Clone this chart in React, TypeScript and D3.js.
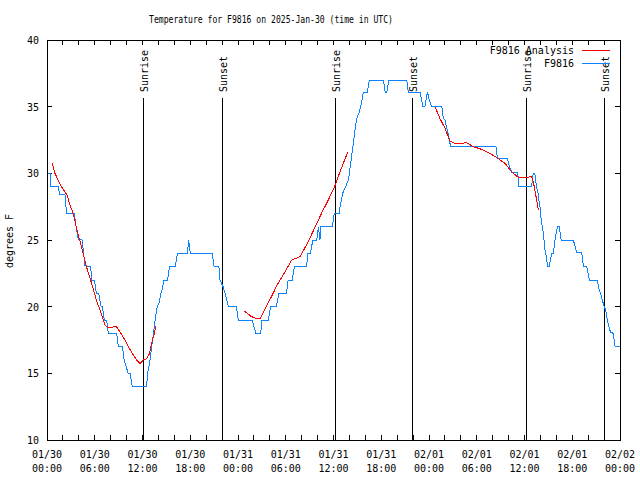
import React from "react";
import * as d3 from "d3";

const TITLE = "Temperature for F9816 on 2025-Jan-30 (time in UTC)";
const Y_LABEL = "degrees F";
const START = "2025-01-30T00:00:00Z";
const END = "2025-02-02T00:00:00Z";

// observations: hours after 01/30 00:00 UTC and temperature (F)
const obsHours = [
  0, 0.38, 0.45, 1.42, 1.6, 2.26, 2.35, 2.43, 3.43, 3.7, 3.94, 4.4, 4.6, 4.75, 4.98, 5.5, 5.6, 5.95, 6.2, 6.49,
  6.8, 6.95, 7.1, 7.2, 7.5, 7.7, 8.75, 8.96, 9.47, 9.7, 9.9, 10.2, 10.43, 10.72, 12.5, 12.7, 12.9, 13.1, 13.43,
  13.64, 13.85, 14.1, 14.3, 14.55, 14.65, 15.15, 15.4, 16.1, 16.4, 17.65, 17.8, 18.0, 20.77, 21.0, 21.6, 21.74,
  22.16, 22.37, 22.79, 23.8, 24.04, 25.8, 26.0, 26.26, 26.85, 27.0, 27.8, 28.1, 28.8, 29.15, 30.1, 30.3, 30.8,
  31.1, 32.6, 32.8, 33.1, 33.4, 33.9, 34.1, 34.3, 34.4, 35.85, 36.1, 36.7, 36.8, 37.0, 37.15, 37.45, 37.9, 38.1,
  38.3, 38.5, 38.7, 38.9, 39.25, 39.55, 39.75, 40.25, 40.5, 42.26, 42.5, 42.7, 42.95, 45.2, 45.4, 46.9, 47.2,
  47.5, 47.8, 48.0, 48.3, 49.6, 49.8, 50.0, 50.2, 50.4, 50.7, 56.4, 56.6, 57.85, 58.1, 58.4, 59.14, 59.3, 60.9,
  61.1, 61.3, 61.5, 61.7, 61.8, 62.0, 62.1, 62.37, 62.58, 62.79, 62.87, 63.12, 63.29, 63.4, 63.62, 63.83, 64.05,
  64.17, 64.38, 64.6, 66.13, 66.35, 66.56, 67.19, 67.4, 67.8, 68.0, 68.15, 69.15, 69.36, 69.57, 69.78, 69.99,
  70.2, 70.4, 70.6, 70.8, 71.15, 71.37, 72.0,
];
const obsTemps = [
  30, 30, 29, 29, 28.4, 28.4, 28, 27, 27, 25.8, 25.05, 25, 24, 23.1, 23, 23, 22, 22, 21, 21,
  20, 20, 19.5, 19, 19, 18, 18, 17, 17, 16, 15.6, 15, 15, 14, 14, 15.25, 15.75, 16.75, 18.25,
  19.25, 20, 20.3, 21, 21.45, 22, 22, 23, 23, 24, 24, 25, 24, 24, 23, 23, 22,
  21.45, 21, 20, 20, 19, 19, 18.5, 18, 18, 19, 19, 20, 20, 21, 21, 22, 22,
  23, 23, 24, 24, 25, 25, 26, 25, 26, 26, 27, 27, 27.4, 28, 28.5, 28.9, 29.55, 30.5,
  31.4, 32.25, 33.25, 34.1, 34.6, 35.4, 36.1, 36.1, 37, 37, 36.1, 36.1, 37, 37, 36.1, 36.1, 35.05,
  35.05, 36.1, 35.6, 35.05, 35.05, 34.1, 34, 33.5, 33, 32.05, 32.05, 31.1, 31.1, 30.55, 30.05, 30.05, 29.05, 29.05,
  30, 30, 29, 28.5, 28, 27.25, 26.5, 25.5, 24.25, 23.6, 23.05, 23.05, 23.6, 24, 24, 25, 25.75,
  26, 26, 25, 25, 24.55, 24.05, 24.05, 23.05, 23.05, 22.45, 22, 22, 21.3, 21, 20.5, 20.05,
  19.75, 19, 18.5, 18.1, 18, 17.05, 17.05,
];

// analysis: NaN marks a gap between segments
const anaHours = [
  0.67, 1.0, 1.7, 2.5, 2.9, 3.3, 3.7, 4.1, 4.55, 4.96, 5.6, 6.2, 6.87, 7.29, 7.71, 8.2, 8.67, 9.17, 9.8, 10.22,
  10.77, 11.27, 11.69, 12.1, 12.5, 12.86, 13.15, 13.45, 13.7,
  NaN,
  24.8, 25.7, 26.4, 26.77, 27.6, 28.2, 28.9, 29.9, 30.75, 31.16, 31.8, 32.85, 33.9, 34.7, 35.35, 36.2, 36.9, 37.8,
  NaN,
  48.75, 49.38, 50.0, 50.64, 51.27, 52.1, 52.7, 53.57, 54.6, 55.67, 56.7, 57.55, 58.4, 59.2, 60.2, 60.9, 61.1,
  61.45, 61.7, 61.8,
];
const anaTemps = [
  30.75, 30.0, 29.1, 28.4, 27.6, 27, 25.9, 25, 24, 23, 21.75, 20.5, 19.4, 18.6, 18.4, 18.45, 18.55, 18.1, 17.5, 17,
  16.45, 16.0, 15.75, 16, 16.1, 16.45, 17.25, 17.9, 18.55,
  NaN,
  19.67, 19.25, 19.1, 19.1, 20.1, 20.75, 21.6, 22.6, 23.5, 23.6, 23.75, 24.9, 26.25, 27.25, 28, 29.1, 30.25, 31.6,
  NaN,
  35, 34.1, 33.4, 32.4, 32.25, 32.25, 32.3, 32, 31.8, 31.5, 31.1, 30.75, 30.1, 29.7, 29.7, 29.75, 29.4,
  28.25, 27.4, 27.25,
];

const sunHours = [12.1, 21.95, 36.15, 45.9, 60.23, 70.03];
const sunLabels = ["Sunrise", "Sunset", "Sunrise", "Sunset", "Sunrise", "Sunset"];
const yTicks = [10, 15, 20, 25, 30, 35, 40];
const seriesNames = ["F9816 Analysis", "F9816"];
const seriesColors = ["#ff0000", "#0a84ff"];

const FONT = "'DejaVu Sans Mono', 'Liberation Mono', monospace";

export default function App() {
  const W = 640, H = 480;
  const L = 47, R = 620, T = 40, B = 440;
  const t0 = new Date(START).getTime();
  const toDate = (h: number) => new Date(t0 + h * 3600e3);

  const x = d3.scaleUtc().domain([new Date(START), new Date(END)]).range([L, R]);
  const y = d3.scaleLinear().domain([10, 40]).range([B, T]);

  const obs = obsHours.map((h, i) => ({ d: toDate(h), v: obsTemps[i] }));
  const ana = anaHours.map((h, i) => ({ d: isNaN(h) ? null : toDate(h), v: anaTemps[i] }));

  const lineObs = d3.line<{ d: Date; v: number }>().x((p) => x(p.d)).y((p) => y(p.v));
  const lineAna = d3
    .line<{ d: Date | null; v: number }>()
    .defined((p) => p.d !== null && !isNaN(p.v))
    .x((p) => x(p.d as Date))
    .y((p) => y(p.v));

  const minorTicks = x.ticks(d3.utcHour.every(2) as any);
  const majorTicks = x.ticks(d3.utcHour.every(6) as any);
  const fmtDay = d3.utcFormat("%m/%d");
  const fmtTime = d3.utcFormat("%H:%M");
  const TL = 5;

  return (
    <svg width={W} height={H} style={{ position: "absolute", left: 0, top: 0, background: "#fff" }}>
      <rect x={0} y={0} width={W} height={H} fill="#fff" />
      <text x={271} y={23} fontFamily={FONT} fontSize={10} textAnchor="middle" textLength={244} lengthAdjust="spacingAndGlyphs">
        {TITLE}
      </text>

      <g shapeRendering="crispEdges" stroke="#000" strokeWidth={1}>
        {minorTicks.map((d, i) => (
          <g key={"xt" + i}>
            <line x1={x(d)} x2={x(d)} y1={B} y2={B - TL} />
            <line x1={x(d)} x2={x(d)} y1={T} y2={T + TL} />
          </g>
        ))}
        {yTicks.map((v, i) => (
          <g key={"yt" + i}>
            <line x1={L} x2={L + TL} y1={y(v)} y2={y(v)} />
            <line x1={R} x2={R - TL} y1={y(v)} y2={y(v)} />
          </g>
        ))}
      </g>

      {yTicks.map((v, i) => (
        <text key={"yl" + i} x={39} y={y(v) + 4} fontFamily={FONT} fontSize={10} textAnchor="end">
          {v}
        </text>
      ))}
      {majorTicks.map((d, i) => (
        <g key={"xl" + i}>
          <text x={x(d)} y={458} fontFamily={FONT} fontSize={10} textAnchor="middle">
            {fmtDay(d)}
          </text>
          <text x={x(d)} y={472} fontFamily={FONT} fontSize={10} textAnchor="middle">
            {fmtTime(d)}
          </text>
        </g>
      ))}
      <text transform={`translate(13,241) rotate(-90)`} fontFamily={FONT} fontSize={10} textAnchor="middle">
        {Y_LABEL}
      </text>

      {sunHours.map((h, i) => {
        const sx = Math.round(x(toDate(h)));
        return (
          <g key={"sun" + i}>
            <line x1={sx} x2={sx} y1={98} y2={B} stroke="#000" strokeWidth={1} shapeRendering="crispEdges" />
            <text transform={`translate(${sx + 5},92) rotate(-90)`} fontFamily={FONT} fontSize={10} textAnchor="start">
              {sunLabels[i]}
            </text>
          </g>
        );
      })}

      <path d={lineObs(obs) || ""} fill="none" stroke={seriesColors[1]} strokeWidth={1} shapeRendering="crispEdges" />
      <path d={lineAna(ana) || ""} fill="none" stroke={seriesColors[0]} strokeWidth={1} shapeRendering="crispEdges" />

      {seriesNames.map((n, i) => (
        <g key={"lg" + i}>
          <text x={574} y={54 + i * 13} fontFamily={FONT} fontSize={10} textAnchor="end">
            {n}
          </text>
          <line x1={582} x2={610} y1={50 + i * 13} y2={50 + i * 13} stroke={seriesColors[i]} strokeWidth={1} shapeRendering="crispEdges" />
        </g>
      ))}

      <rect x={L} y={T} width={R - L} height={B - T} fill="none" stroke="#000" strokeWidth={1} shapeRendering="crispEdges" />
    </svg>
  );
}
